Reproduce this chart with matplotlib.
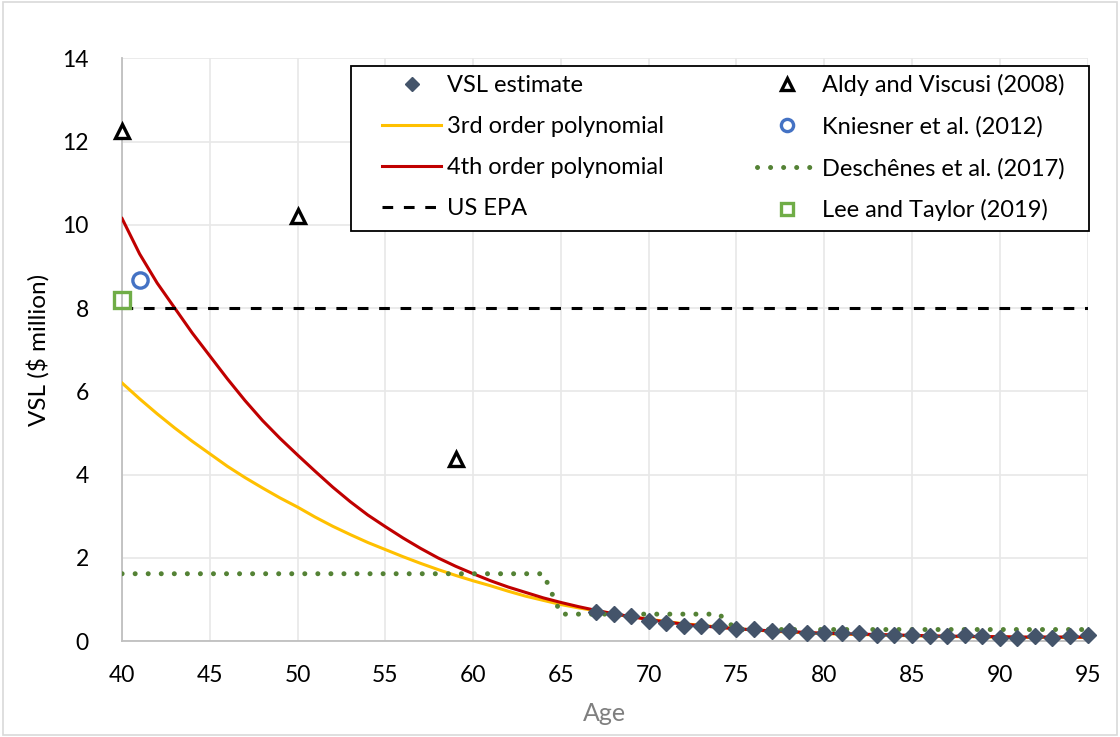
import matplotlib.pyplot as plt
from matplotlib.patches import Rectangle

plt.rcParams['font.family'] = ['Lato', 'DejaVu Sans']

# VSL estimates by age
vsl_age = [67, 68, 69, 70, 71, 72, 73, 74, 75, 76, 77, 78, 79, 80, 81, 82, 83,
           84, 85, 86, 87, 88, 89, 90, 91, 92, 93, 94, 95]
vsl_est = [0.71, 0.65, 0.60, 0.48, 0.43, 0.36, 0.36, 0.36, 0.29, 0.29, 0.24, 0.24,
           0.20, 0.20, 0.20, 0.20, 0.16, 0.16, 0.16, 0.12, 0.12, 0.14, 0.12, 0.08,
           0.08, 0.12, 0.08, 0.12, 0.16]

# polynomial fits, one value per year 40..95
fit_age = list(range(40, 96))
poly3 = [6.2, 5.82, 5.46, 5.12, 4.8, 4.5, 4.2, 3.93, 3.68, 3.44,
         3.22, 2.98, 2.76, 2.56, 2.37, 2.2, 2.03, 1.87, 1.72, 1.58,
         1.45, 1.33, 1.2, 1.08, 0.98, 0.88, 0.8, 0.73, 0.65, 0.59,
         0.53, 0.47, 0.42, 0.38, 0.34, 0.3, 0.27, 0.24, 0.22, 0.2,
         0.18, 0.17, 0.16, 0.15, 0.14, 0.13, 0.12, 0.11, 0.11, 0.1,
         0.1, 0.09, 0.09, 0.09, 0.09, 0.09]
poly4 = [10.15, 9.3, 8.6, 8.0, 7.4, 6.85, 6.3, 5.78, 5.3, 4.87,
         4.47, 4.08, 3.7, 3.35, 3.03, 2.75, 2.48, 2.23, 2.0, 1.8,
         1.62, 1.45, 1.3, 1.17, 1.04, 0.93, 0.83, 0.74, 0.66, 0.59,
         0.52, 0.46, 0.41, 0.37, 0.33, 0.3, 0.27, 0.25, 0.23, 0.21,
         0.19, 0.18, 0.17, 0.16, 0.15, 0.14, 0.13, 0.12, 0.12, 0.11,
         0.11, 0.1, 0.1, 0.1, 0.1, 0.1]

# US EPA constant
epa_age = [40, 95]
epa_vsl = [8.0, 8.0]

# literature points
aldy_age = [40, 50, 59]
aldy_vsl = [12.25, 10.2, 4.37]
kniesner_age = [41]
kniesner_vsl = [8.67]
lee_age = [40]
lee_vsl = [8.19]

# Deschenes step function
desch_age = [40, 64, 65, 74, 75, 95]
desch_vsl = [1.62, 1.62, 0.65, 0.65, 0.28, 0.28]

fig = plt.figure(figsize=(11.2, 7.37), dpi=100)
ax = fig.add_axes([0.109, 0.130, 0.862, 0.791])

ax.plot(fit_age, poly3, color='#FFC000', lw=2.2, label='3rd order polynomial', zorder=3)
ax.plot(fit_age, poly4, color='#C00000', lw=2.2, label='4th order polynomial', zorder=3)
ax.plot(epa_age, epa_vsl, color='black', lw=2.2, ls=(0, (3.5, 3.5)), label='US EPA', zorder=3)
ax.plot(desch_age, desch_vsl, color='#548235', lw=3.6, ls=(0, (0.01, 2.6)),
        dash_capstyle='round', label='Deschênes et al. (2017)', zorder=3)
ax.plot(aldy_age, aldy_vsl, ls='none', marker='^', ms=10, mfc='white', mec='black',
        mew=2.4, label='Aldy and Viscusi (2008)', zorder=4, clip_on=False)
ax.plot(kniesner_age, kniesner_vsl, ls='none', marker='o', ms=11, mfc='none', mec='#4472C4',
        mew=2.4, label='Kniesner et al. (2012)', zorder=4, clip_on=False)
ax.plot(lee_age, lee_vsl, ls='none', marker='s', ms=11, mfc='none', mec='#70AD47',
        mew=2.4, label='Lee and Taylor (2019)', zorder=4, clip_on=False)
ax.plot(vsl_age, vsl_est, ls='none', marker='D', ms=8.5, color='#44546A',
        label='VSL estimate', zorder=5, clip_on=False)

ax.set_xlim(40, 95)
ax.set_ylim(0, 14)
ax.set_xticks(range(40, 96, 5))
ax.set_yticks(range(0, 15, 2))
ax.grid(True, color='#E8E8E8', lw=1.2, zorder=0)
ax.set_axisbelow(True)
for side in ['top', 'right']:
    ax.spines[side].set_visible(False)
for side in ['left', 'bottom']:
    ax.spines[side].set_color('#BFBFBF')
    ax.spines[side].set_linewidth(1.3)
ax.tick_params(length=0, labelsize=16.5, colors='black')
ax.tick_params(axis='x', pad=17)
ax.tick_params(axis='y', pad=24)
ax.set_xlabel('Age', fontsize=18, color='#7F7F7F', labelpad=12)
ax.set_ylabel('VSL ($ million)', fontsize=17.5, color='black', labelpad=9)

# legend box drawn separately so its padding can match
fig.patches.append(Rectangle((351 / 1120, 1 - 231 / 737), 738 / 1120, 165 / 737,
                             transform=fig.transFigure, facecolor='white',
                             edgecolor='black', lw=1.3, zorder=2))

handles, labels = ax.get_legend_handles_labels()
order = ['VSL estimate', '3rd order polynomial', '4th order polynomial', 'US EPA',
         'Aldy and Viscusi (2008)', 'Kniesner et al. (2012)',
         'Deschênes et al. (2017)', 'Lee and Taylor (2019)']
hmap = dict(zip(labels, handles))
leg = fig.legend([hmap[l] for l in order], order, ncol=2, loc='upper left',
                 bbox_to_anchor=(382 / 1120, 1 - 230 / 737, 683 / 1120, 156 / 737),
                 mode='expand', fontsize=17, handlelength=2.5, handletextpad=0.25,
                 labelspacing=0.85, borderpad=0, borderaxespad=0, frameon=False,
                 markerscale=0.8)
leg.set_zorder(3)

fig.patches.append(Rectangle((0.003, 0.003), 0.994, 0.994, transform=fig.transFigure,
                             fill=False, edgecolor='#D9D9D9', lw=1.2))

fig.savefig('out.png', dpi=100)
